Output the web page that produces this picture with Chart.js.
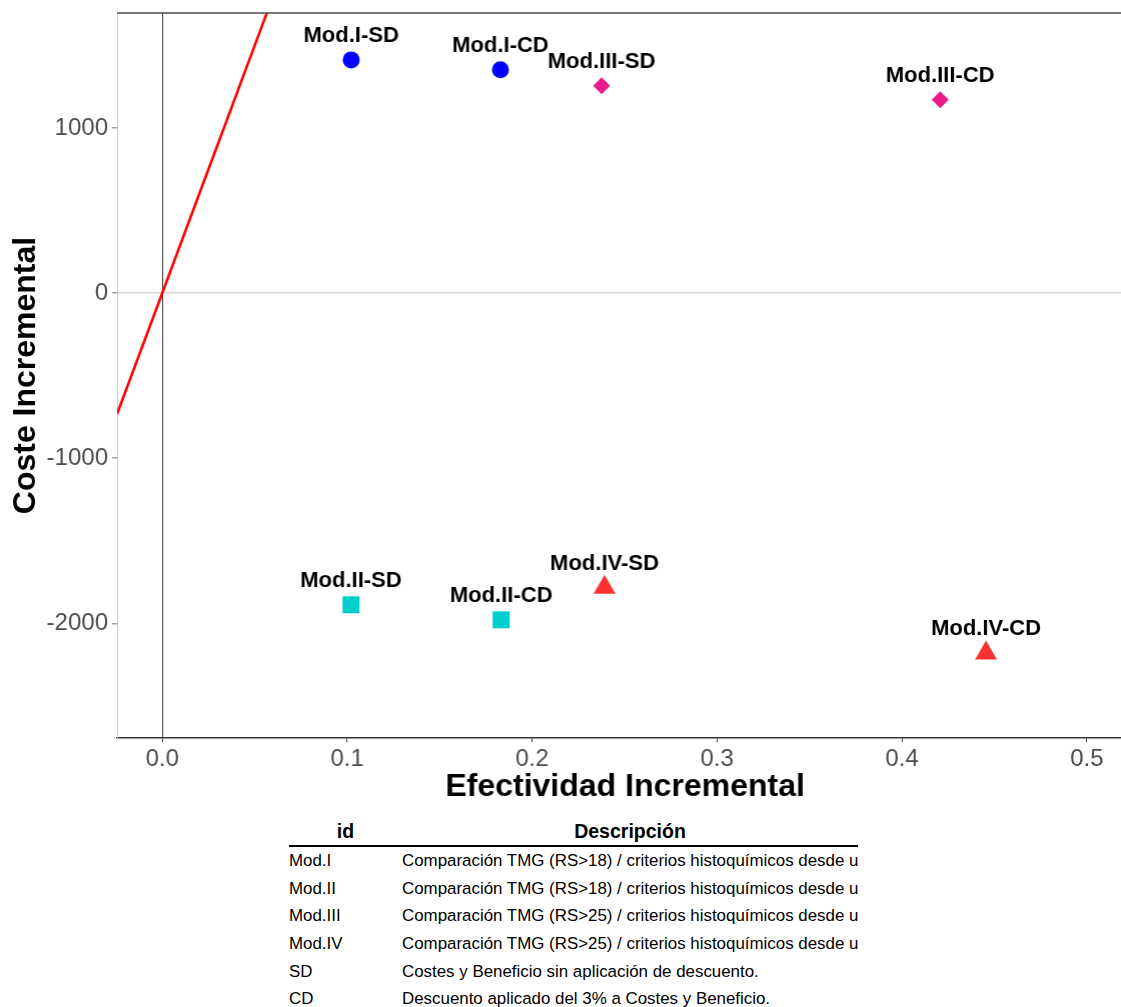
<!DOCTYPE html>
<html lang="es">
<head>
<meta charset="utf-8">
<title>Plano coste-efectividad</title>
<script src="https://cdn.jsdelivr.net/npm/chart.js@4.4.1/dist/chart.umd.min.js"></script>
<style>
  html, body { margin: 0; padding: 0; background: #fff; overflow: hidden; }
  body { width: 1121px; height: 1007px; position: relative; font-family: "Liberation Sans", Arial, sans-serif; }
  #wrap { position: absolute; left: 0; top: 0; width: 1200px; height: 810px; }
  #plano { display: block; }
  #tabla { position: absolute; left: 289px; top: 817px; width: 569px; border-collapse: collapse; color: #000; }
  #tabla th { font-weight: bold; font-size: 19.5px; height: 28px; padding: 0; text-align: center; border-bottom: 2px solid #000; }
  #tabla td { font-size: 16.9px; height: 27.7px; padding: 0; white-space: nowrap; overflow: hidden; }
  #tabla td.id { width: 113px; }
  #tabla td.desc { max-width: 456px; }
</style>
</head>
<body>
<div id="wrap"><canvas id="plano" width="1132" height="810"></canvas></div>
<table id="tabla">
  <thead><tr><th style="width:113px">id</th><th>Descripción</th></tr></thead>
  <tbody id="filas"></tbody>
</table>
<script>
// Modelos comparados y resultados incrementales (sin descuento / con descuento)
const modelos = ['Mod.I', 'Mod.II', 'Mod.III', 'Mod.IV'];
const efectividadSD = [0.1022, 0.1021, 0.2376, 0.2392];
const costeSD       = [1413, -1888, 1256, -1783];
const efectividadCD = [0.1829, 0.1833, 0.4207, 0.4455];
const costeCD       = [1353, -1979, 1171, -2181];

// Estilo de cada modelo
const colores  = ['#0000FF', '#00CDCD', '#EC1A8C', '#FF3232'];
const formas   = ['circle', 'rect', 'rectRot', 'triangle'];
const radios   = [8.5, 12, 8.5, 12.7];

// Umbral de disposición a pagar (€/unidad de efectividad)
const umbral = 30000;

// Ejes
const xMin = -0.0244, xMax = 0.525;
const yMin = -2695, yMax = 1697;
const xTicks = [0, 0.1, 0.2, 0.3, 0.4, 0.5];
const yTicks = [-2000, -1000, 0, 1000];

// Tabla descriptiva
const tablaIds = ['Mod.I', 'Mod.II', 'Mod.III', 'Mod.IV', 'SD', 'CD'];
const tablaDesc = [
  'Comparación TMG (RS>18) / criterios histoquímicos desde u',
  'Comparación TMG (RS>18) / criterios histoquímicos desde u',
  'Comparación TMG (RS>25) / criterios histoquímicos desde u',
  'Comparación TMG (RS>25) / criterios histoquímicos desde u',
  'Costes y Beneficio sin aplicación de descuento.',
  'Descuento aplicado del 3% a Costes y Beneficio.'
];

const filas = document.getElementById('filas');
tablaIds.forEach((id, i) => {
  const tr = document.createElement('tr');
  const a = document.createElement('td'); a.className = 'id'; a.textContent = id;
  const b = document.createElement('td'); b.className = 'desc'; b.textContent = tablaDesc[i];
  tr.appendChild(a); tr.appendChild(b); filas.appendChild(tr);
});

const datasets = [];
// Línea del umbral, dibujada sobre todo el rango del eje x
datasets.push({
  type: 'line',
  label: 'umbral',
  data: [{ x: xMin, y: umbral * xMin }, { x: xMax, y: umbral * xMax }],
  borderColor: '#FF0000',
  borderWidth: 2.6,
  pointRadius: 0,
  fill: false,
  order: 2
});
modelos.forEach((m, i) => {
  datasets.push({
    type: 'scatter',
    label: m,
    data: [
      { x: efectividadSD[i], y: costeSD[i], etiqueta: m + '-SD' },
      { x: efectividadCD[i], y: costeCD[i], etiqueta: m + '-CD' }
    ],
    pointStyle: formas[i],
    pointRadius: radios[i],
    pointHoverRadius: radios[i],
    backgroundColor: colores[i],
    borderColor: colores[i],
    borderWidth: 0,
    order: 1
  });
});

// Etiquetas de texto encima de cada punto
const etiquetas = {
  id: 'etiquetas',
  afterDatasetsDraw(chart) {
    const { ctx, scales: { x, y } } = chart;
    ctx.save();
    ctx.font = 'bold 22px "Liberation Sans", Arial, sans-serif';
    ctx.fillStyle = '#000';
    ctx.textAlign = 'center';
    ctx.textBaseline = 'middle';
    chart.data.datasets.forEach(ds => {
      if (ds.type !== 'scatter') return;
      ds.data.forEach(p => {
        ctx.fillText(p.etiqueta, x.getPixelForValue(p.x), y.getPixelForValue(p.y) - 24);
      });
    });
    ctx.restore();
  }
};

// Borde superior del panel
const bordeSuperior = {
  id: 'bordeSuperior',
  afterDraw(chart) {
    const { ctx, chartArea } = chart;
    ctx.save();
    ctx.strokeStyle = '#4d4d4d';
    ctx.lineWidth = 1.4;
    ctx.beginPath();
    ctx.moveTo(chartArea.left, chartArea.top);
    ctx.lineTo(chartArea.right, chartArea.top);
    ctx.stroke();
    ctx.restore();
  }
};

const fuente = '"Liberation Sans", Arial, sans-serif';
const anchoPanel = 1132;   // borde derecho deseado del panel
const altoLienzo = 810;

const grafico = new Chart(document.getElementById('plano'), {
  type: 'scatter',
  data: { datasets },
  plugins: [etiquetas, bordeSuperior],
  options: {
    responsive: false,
    maintainAspectRatio: false,
    devicePixelRatio: 1,
    animation: false,
    events: [],
    layout: { padding: { top: 13, right: 0, bottom: 0, left: 0 } },
    plugins: { legend: { display: false }, tooltip: { enabled: false } },
    scales: {
      x: {
        type: 'linear',
        min: xMin,
        max: xMax,
        afterBuildTicks: s => { s.ticks = xTicks.map(v => ({ value: v })); },
        afterFit: s => { s.height = 72; s.paddingLeft = 0; s.paddingRight = 0; },
        ticks: {
          callback: v => Number(v).toFixed(1),
          color: '#4d4d4d',
          font: { family: fuente, size: 24, lineHeight: 1 },
          padding: 5,
          maxRotation: 0,
          autoSkip: false
        },
        grid: {
          color: c => (c.tick && c.tick.value === 0 ? '#333333' : 'rgba(0,0,0,0)'),
          lineWidth: 1,
          tickColor: '#333333',
          tickLength: 4,
          drawTicks: true
        },
        border: { display: true, color: '#333333', width: 1.5 },
        title: {
          display: true,
          text: 'Efectividad Incremental',
          color: '#000',
          font: { family: fuente, size: 32, weight: 'bold', lineHeight: 1 },
          padding: { top: 0, bottom: 7 }
        }
      },
      y: {
        type: 'linear',
        min: yMin,
        max: yMax,
        afterBuildTicks: s => { s.ticks = yTicks.map(v => ({ value: v })); },
        afterFit: s => { s.width = 117; s.paddingTop = 0; s.paddingBottom = 0; },
        ticks: {
          callback: v => String(v),
          color: '#4d4d4d',
          font: { family: fuente, size: 24, lineHeight: 1 },
          padding: 4,
          autoSkip: false
        },
        grid: {
          color: c => (c.tick && c.tick.value === 0 ? '#d6d6d6' : 'rgba(0,0,0,0)'),
          lineWidth: 1.5,
          tickColor: '#a0a0a0',
          tickLength: 5,
          drawTicks: true
        },
        border: { display: true, color: '#cccccc', width: 1 },
        title: {
          display: true,
          text: 'Coste Incremental',
          color: '#000',
          font: { family: fuente, size: 32, weight: 'bold', lineHeight: 1 },
          padding: { top: 10, bottom: 0 }
        }
      }
    }
  }
});

// Ensanchar el lienzo si el diseño deja el panel más estrecho de lo previsto
const falta = anchoPanel - grafico.chartArea.right;
if (falta > 0.5) {
  grafico.resize(grafico.width + falta, altoLienzo);
}
</script>
</body>
</html>
